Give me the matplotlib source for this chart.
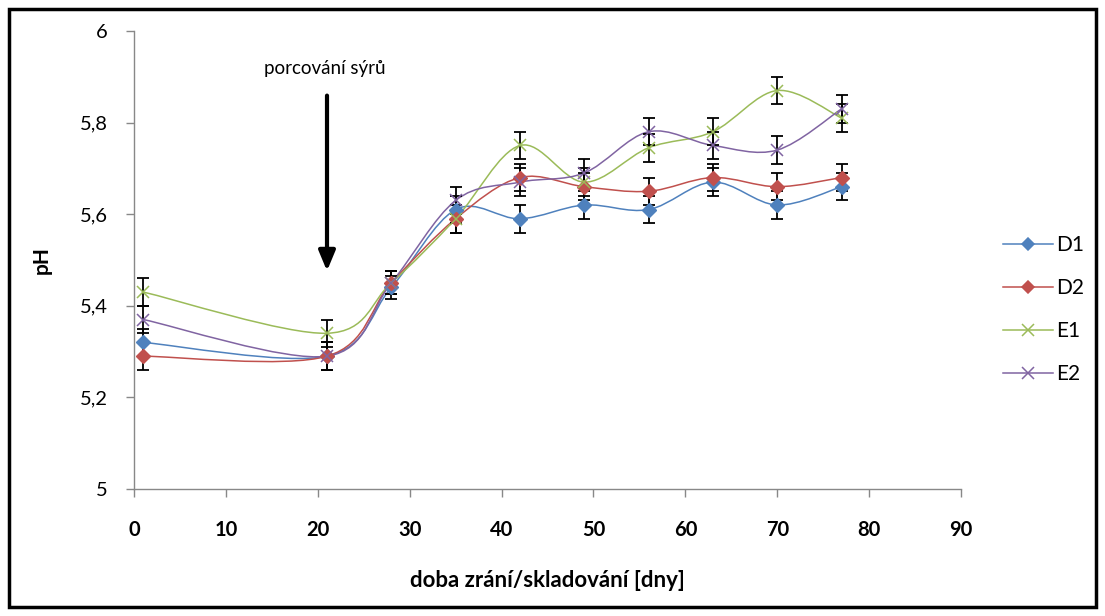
import numpy as np
import matplotlib
matplotlib.use("Agg")
import matplotlib.pyplot as plt
from matplotlib.path import Path
from matplotlib.patches import PathPatch, Rectangle
from matplotlib.lines import Line2D
from matplotlib.ticker import FuncFormatter

plt.rcParams['font.family'] = ['Lato', 'DejaVu Sans']

days = [1, 21, 28, 35, 42, 49, 56, 63, 70, 77]
names = ["D1", "D2", "E1", "E2"]
d1 = [5.32, 5.29, 5.44, 5.61, 5.59, 5.62, 5.61, 5.67, 5.62, 5.66]
d2 = [5.29, 5.29, 5.45, 5.59, 5.68, 5.66, 5.65, 5.68, 5.66, 5.68]
e1 = [5.43, 5.34, 5.45, 5.59, 5.75, 5.67, 5.745, 5.78, 5.87, 5.81]
e2 = [5.37, 5.29, 5.45, 5.63, 5.67, 5.69, 5.78, 5.75, 5.74, 5.83]
d1_err = [0.03, 0.03, 0.025, 0.03, 0.03, 0.03, 0.03, 0.03, 0.03, 0.03]
d2_err = [0.03, 0.03, 0.025, 0.03, 0.03, 0.03, 0.03, 0.03, 0.03, 0.03]
e1_err = [0.03, 0.03, 0.025, 0.03, 0.03, 0.03, 0.03, 0.03, 0.03, 0.03]
e2_err = [0.03, 0.03, 0.025, 0.03, 0.03, 0.03, 0.03, 0.03, 0.03, 0.03]

colors = ["#4F81BD", "#C0504D", "#9BBB59", "#8064A2"]
markers = ["D", "D", "x", "x"]


def smooth_path(x, y):
    # excel-like smoothed line: cubic bezier through every point
    pts = np.column_stack([x, y]).astype(float)
    n = len(pts)
    verts = [pts[0]]
    codes = [Path.MOVETO]
    for i in range(n - 1):
        p0 = pts[i - 1] if i > 0 else pts[i]
        p3 = pts[i + 2] if i + 2 < n else pts[i + 1]
        c1 = pts[i] + (pts[i + 1] - p0) / 6
        c2 = pts[i + 1] - (p3 - pts[i]) / 6
        verts += [c1, c2, pts[i + 1]]
        codes += [Path.CURVE4] * 3
    return Path(verts, codes)


fig = plt.figure(figsize=(11.05, 6.16), dpi=100)
ax = fig.add_axes([0.1213, 0.2062, 0.7484, 0.7435])

series = [d1, d2, e1, e2]
errs = [d1_err, d2_err, e1_err, e2_err]
handles = []
for vals, err, c, m, name in zip(series, errs, colors, markers, names):
    ax.add_patch(PathPatch(smooth_path(days, vals), facecolor="none",
                           edgecolor=c, lw=1.1, zorder=2))
    ax.errorbar(days, vals, yerr=err, fmt="none", ecolor="black",
                elinewidth=1.3, capsize=4.5, capthick=1.3, zorder=3)
    if m == "D":
        ax.plot(days, vals, ls="none", marker="D", ms=7, color=c,
                mec=c, zorder=4)
    else:
        ax.plot(days, vals, ls="none", marker="x", ms=9, mew=1.1,
                color=c, zorder=4)
    handles.append(Line2D([], [], color=c, lw=1.1, marker=m,
                          ms=6 if m == "D" else 9, mew=1.1))

ax.set_xlim(0, 90)
ax.set_ylim(5, 6)
ax.set_xticks(range(0, 91, 10))
ax.set_yticks([5, 5.2, 5.4, 5.6, 5.8, 6])
ax.yaxis.set_major_formatter(FuncFormatter(lambda v, p: ("%g" % round(v, 1)).replace(".", ",")))
for s in ["top", "right"]:
    ax.spines[s].set_visible(False)
for s in ["left", "bottom"]:
    ax.spines[s].set_color("#888888")
    ax.spines[s].set_linewidth(1.0)
ax.tick_params(axis="both", direction="out", length=6, width=1.0,
               color="#888888", labelsize=14.5)
ax.tick_params(axis="x", pad=16)
ax.tick_params(axis="y", pad=13)
for lab in ax.get_xticklabels():
    lab.set_fontweight("bold")

ax.set_xlabel("doba zrání/skladování [dny]", fontsize=16, fontweight="bold",
              labelpad=22)
ax.set_ylabel("pH", fontsize=15, fontweight="bold", labelpad=20)

ax.annotate("", xy=(21, 5.47), xytext=(21, 5.865),
            arrowprops=dict(arrowstyle="-|>,head_width=0.5,head_length=1.2",
                            color="black", lw=3))
ax.text(20.8, 5.917, "porcování sýrů", ha="center", va="center", fontsize=13.5)

fig.legend(handles, names, loc="upper left", bbox_to_anchor=(0.898, 0.635),
           frameon=False, fontsize=15, handlelength=2.4, labelspacing=1.1,
           handletextpad=0.15, borderpad=0)

fig.patches.append(Rectangle((0.008, 0.014), 0.984, 0.972, transform=fig.transFigure,
                             fill=False, edgecolor="black", lw=2.5))

fig.savefig("out.png", dpi=100)
